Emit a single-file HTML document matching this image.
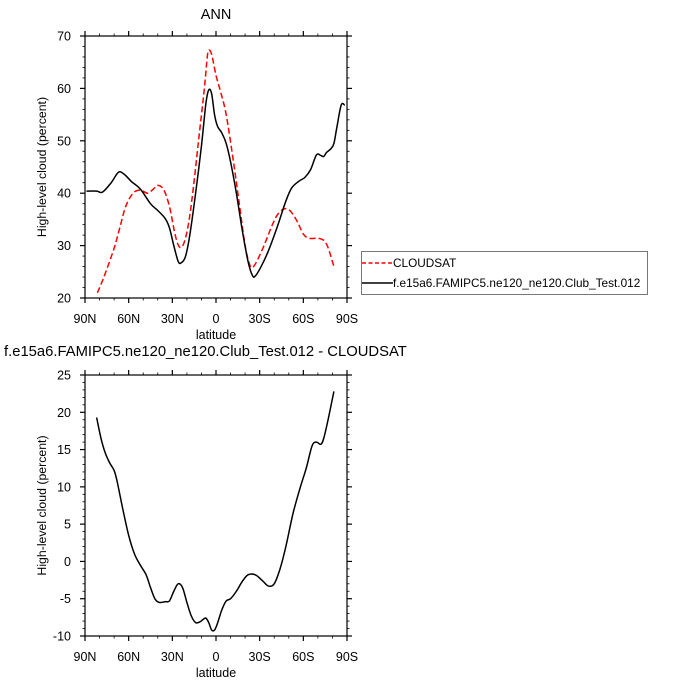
<!DOCTYPE html>
<html><head><meta charset="utf-8"><style>
body{margin:0;background:#fff;}
svg{display:block;font-family:"Liberation Sans",Arial,sans-serif;}
</style></head><body>
<svg id="c" width="687" height="687" viewBox="0 0 687 687" xmlns="http://www.w3.org/2000/svg">
<rect width="687" height="687" fill="#fff"/>
<text x="216" y="19" font-size="14.5" text-anchor="middle">ANN</text>
<text x="4" y="356" font-size="14.8">f.e15a6.FAMIPC5.ne120_ne120.Club_Test.012 - CLOUDSAT</text>
<g>
<rect x="361.5" y="251.5" width="286" height="43" fill="#fff" stroke="#777" stroke-width="1"/>
<line x1="362" y1="263" x2="393" y2="263" stroke="red" stroke-width="1.5" stroke-dasharray="4,2.5"/>
<text x="393" y="267" font-size="11.8">CLOUDSAT</text>
<line x1="362" y1="283" x2="393" y2="283" stroke="#000" stroke-width="1.5"/>
<text x="393" y="287" font-size="11.8">f.e15a6.FAMIPC5.ne120_ne120.Club_Test.012</text>
</g>
</svg>
<script>
const topLats=[89,82,78,72,67,63,58,52,45,40,35,32,29,26,24,21,18,14,10,7,5,3,1,-1,-4,-7,-10,-14,-18,-22,-25,-27,-31,-36,-42,-48,-52,-57,-61,-65,-69,-72,-74,-76,-79,-81,-83,-86,-88.5];
const modelVals=[40.4,40.4,40.2,42,44,43.6,42.2,40.8,38,36.7,35.2,33.4,30,27,26.7,27.9,32,40,49,57,59.7,59,55,52.8,51.5,49.5,46,40,33,27,24.3,24.2,26,29,33.5,38.5,41,42.3,43,44.5,47.3,47.2,47,47.8,48.5,49.5,52.5,56.8,56.8];
const obsLats=[81.5,77,70,66,62,57,52,47,43,40,36,32,28,25,22,19,16,12,8,6,5,3,0,-3,-7,-12,-16,-20,-23,-25,-28,-33,-38,-42,-46,-49,-52,-56,-60,-64,-70,-74,-77,-81];
const obsVals=[21,24,29.5,33.5,37.5,40,40.6,40,40.8,41.5,40.7,37.5,32,29.7,30.5,34,40,50,60,66,67.3,66.5,62.5,59.5,55,46,38,30,26.5,25.8,27,30,33.5,35.8,36.9,37,36.3,34.5,32.2,31.4,31.4,31,29.6,26];
const diffLats=[82,79,76,73,70,68,64,60,56,52,48,45,42,39,35,32,29,26,23,20,17,14,11,9,7,5,3,1,-1,-4,-7,-10,-14,-18,-22,-27,-32,-36,-40,-44,-48,-53,-58,-62,-66,-69,-72,-74,-77,-81];
const diffVals=[19.3,16.5,14.5,13.2,12.2,10.8,7,3.5,1,-0.5,-1.8,-3.5,-5,-5.5,-5.4,-5.3,-4,-3,-3.5,-5.5,-7.3,-8.2,-8.1,-7.8,-7.6,-8.2,-9.2,-9.2,-8.3,-6.5,-5.3,-5,-4,-2.7,-1.8,-1.8,-2.6,-3.3,-3,-1,2,6.5,10,12.5,15.5,16,15.7,16.5,19,22.8];
const xTickVals=[90,60,30,0,-30,-60,-90];
const xTickLabels=["90N","60N","30N","0","30S","60S","90S"];
const topYTicks=[20,30,40,50,60,70];
const botYTicks=[-10,-5,0,5,10,15,20,25];

const NS='http://www.w3.org/2000/svg';
const svg=document.getElementById('c');
function mk(tag,attrs,parent){const e=document.createElementNS(NS,tag);for(const k in attrs)e.setAttribute(k,attrs[k]);(parent||svg).appendChild(e);return e;}
function smooth(pts){let d='M'+pts[0][0].toFixed(2)+','+pts[0][1].toFixed(2);
 for(let i=0;i<pts.length-1;i++){const p0=pts[i-1]||pts[i],p1=pts[i],p2=pts[i+1],p3=pts[i+2]||p2;
 const c1=[p1[0]+(p2[0]-p0[0])/6,p1[1]+(p2[1]-p0[1])/6],c2=[p2[0]-(p3[0]-p1[0])/6,p2[1]-(p3[1]-p1[1])/6];
 d+=' C'+c1[0].toFixed(2)+','+c1[1].toFixed(2)+' '+c2[0].toFixed(2)+','+c2[1].toFixed(2)+' '+p2[0].toFixed(2)+','+p2[1].toFixed(2);}
 return d;}
function panel(name,top,bottom,ymin,ymax,yticks,minorStep){
 const L=85,R=347;
 const xs=lat=>L+(90-lat)/180*(R-L);
 const ys=v=>bottom-(v-ymin)/(ymax-ymin)*(bottom-top);
 const g=mk('g',{});
 
 
 for(let lat=90;lat>=-90;lat-=10){const x=xs(lat),maj=lat%30===0,len=maj?5:2.5,w=maj?1.2:0.8;
  mk('line',{x1:x,y1:bottom,x2:x,y2:bottom+len,stroke:'#000','stroke-width':w},g);
  mk('line',{x1:x,y1:top,x2:x,y2:top-len,stroke:'#000','stroke-width':w},g);}
 for(let v=ymin;v<=ymax+1e-9;v+=minorStep){const y=ys(v),maj=yticks.includes(Math.round(v*100)/100),len=maj?5:2.5,w=maj?1.2:0.8;
  mk('line',{x1:L-len,y1:y,x2:L,y2:y,stroke:'#000','stroke-width':w},g);
  mk('line',{x1:R+len,y1:y,x2:R,y2:y,stroke:'#000','stroke-width':w},g);}
 xTickVals.forEach((v,i)=>{const t=mk('text',{x:xs(v),y:bottom+25,'font-size':12.5,'text-anchor':'middle'},g);t.textContent=xTickLabels[i];
  
  });
 yticks.forEach(v=>{const t=mk('text',{x:L-14,y:ys(v)+4.5,'font-size':12.5,'text-anchor':'end'},g);t.textContent=String(v);
  
  });
 const xl=mk('text',{x:(L+R)/2,y:bottom+41,'font-size':12.5,'text-anchor':'middle'},g);xl.textContent='latitude';
 
 
 const cy=(top+bottom)/2;
 const yl=mk('text',{x:46,y:cy,'font-size':12.3,'text-anchor':'middle',transform:'rotate(-90 46 '+cy+')'},g);yl.textContent='High-level cloud (percent)';
 
 
 mk('rect',{x:L,y:top,width:R-L,height:bottom-top,fill:'none',stroke:'#000','stroke-width':1.2},g);
 return {xs,ys,g};
}
const p1=panel('top',36,298,20,70,topYTicks,2);
const obs=mk('path',{d:smooth(obsLats.map((l,i)=>[p1.xs(l),p1.ys(obsVals[i])])),fill:'none',stroke:'red','stroke-width':1.5,'stroke-dasharray':'6,3'},p1.g);


const mod=mk('path',{d:smooth(topLats.map((l,i)=>[p1.xs(l),p1.ys(modelVals[i])])),fill:'none',stroke:'#000','stroke-width':1.5},p1.g);


const p2=panel('bottom',375,636,-10,25,botYTicks,1);
const dif=mk('path',{d:smooth(diffLats.map((l,i)=>[p2.xs(l),p2.ys(diffVals[i])])),fill:'none',stroke:'#000','stroke-width':1.5},p2.g);


</script>
</body></html>
